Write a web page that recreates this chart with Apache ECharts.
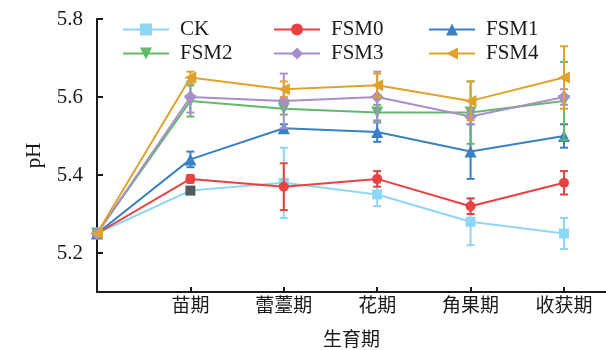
<!DOCTYPE html>
<html>
<head>
<meta charset="utf-8">
<script src="https://cdn.jsdelivr.net/npm/echarts@6/dist/echarts.min.js"></script>
<style>html,body{margin:0;padding:0;background:#fff}#c{width:606px;height:350px}</style>
</head>
<body>
<div id="c"></div>
<script>
const categories = ['', '苗期', '蕾薹期', '花期', '角果期', '收获期'];
const yTicks = [5.2, 5.4, 5.6, 5.8];
const seriesNames = ['CK', 'FSM0', 'FSM1', 'FSM2', 'FSM3', 'FSM4'];
const ck   = [5.25, 5.36, 5.38, 5.35, 5.28, 5.25];
const ckErr   = [0, 0.005, 0.09, 0.03, 0.06, 0.04];
const fsm0 = [5.25, 5.39, 5.37, 5.39, 5.32, 5.38];
const fsm0Err = [0, 0.01, 0.06, 0.02, 0.02, 0.03];
const fsm1 = [5.25, 5.44, 5.52, 5.51, 5.46, 5.50];
const fsm1Err = [0, 0.02, 0.01, 0.025, 0.07, 0.03];
const fsm2 = [5.25, 5.59, 5.57, 5.56, 5.56, 5.59];
const fsm2Err = [0, 0.04, 0.015, 0.02, 0.08, 0.1];
const fsm3 = [5.25, 5.60, 5.59, 5.60, 5.55, 5.60];
const fsm3Err = [0, 0.04, 0.07, 0.065, 0.02, 0.02];
const fsm4 = [5.25, 5.65, 5.62, 5.63, 5.59, 5.65];
const fsm4Err = [0, 0.015, 0.02, 0.03, 0.05, 0.08];

const values = [ck, fsm0, fsm1, fsm2, fsm3, fsm4];
const errs = [ckErr, fsm0Err, fsm1Err, fsm2Err, fsm3Err, fsm4Err];
const colors = ['#8fd5f5', '#e8413f', '#3a80c3', '#62b96c', '#a88fc9', '#dfa32d'];
const symbols = ['rect', 'circle', 'triangle', 'triangle', 'diamond', 'triangle'];
const rotates = [0, 0, 0, 180, 0, 90];
const serif = "'Liberation Serif', 'Noto Sans CJK SC', serif";

const series = [];
values.forEach((vals, i) => {
  series.push({
    type: 'line',
    name: seriesNames[i],
    z: 4 + i,
    data: vals.map((v, k) => {
      const d = { value: [k, v] };
      if (i === 0 && k === 1) d.itemStyle = { color: '#4f5b5f' };
      return d;
    }),
    symbol: symbols[i],
    symbolRotate: rotates[i],
    symbolSize: symbols[i] === 'triangle' ? 12 : (symbols[i] === 'diamond' ? 13 : 10),
    showSymbol: true,
    lineStyle: { color: colors[i], width: 2 },
    itemStyle: { color: colors[i] },
    emphasis: { disabled: true }
  });
});
values.forEach((vals, i) => {
  series.push({
    type: 'custom',
    name: seriesNames[i] + '_err',
    z: 4 + i,
    silent: true,
    data: vals.map((v, k) => [k, v - errs[i][k], v + errs[i][k]]),
    renderItem: function (params, api) {
      const x = api.value(0);
      const lo = api.coord([x, api.value(1)]);
      const hi = api.coord([x, api.value(2)]);
      const w = 4;
      const st = { stroke: colors[i], lineWidth: 2 };
      return {
        type: 'group',
        children: [
          { type: 'line', shape: { x1: lo[0], y1: lo[1], x2: hi[0], y2: hi[1] }, style: st },
          { type: 'line', shape: { x1: lo[0] - w, y1: lo[1], x2: lo[0] + w, y2: lo[1] }, style: st },
          { type: 'line', shape: { x1: hi[0] - w, y1: hi[1], x2: hi[0] + w, y2: hi[1] }, style: st }
        ]
      };
    }
  });
});

const legendCommon = {
  orient: 'vertical',
  top: 14,
  itemWidth: 46,
  itemHeight: 15,
  itemGap: 3,
  textStyle: { fontFamily: serif, fontSize: 21, color: '#1a1a1a', padding: [0, 0, 0, 6] },
  selectedMode: false
};

const option = {
  animation: false,
  color: colors,
  grid: { left: 97, right: 0, top: 19, bottom: 58, containLabel: false, outerBoundsMode: 'none' },
  legend: [
    Object.assign({ left: 117, data: ['CK', 'FSM2'] }, legendCommon),
    Object.assign({ left: 268, data: ['FSM0', 'FSM3'] }, legendCommon),
    Object.assign({ left: 423, data: ['FSM1', 'FSM4'] }, legendCommon)
  ],
  xAxis: {
    type: 'value',
    min: 0,
    max: 5.45,
    name: '生育期',
    nameLocation: 'middle',
    nameGap: 40,
    nameTextStyle: { fontFamily: serif, fontSize: 19, color: '#1a1a1a' },
    axisLine: { show: true, lineStyle: { color: '#1a1a1a', width: 2 } },
    axisTick: { show: true, inside: true, length: 5, customValues: [1, 2, 3, 4, 5], lineStyle: { color: '#1a1a1a', width: 2 } },
    axisLabel: {
      customValues: [1, 2, 3, 4, 5],
      formatter: v => categories[Math.round(v)],
      fontFamily: serif, fontSize: 19, color: '#1a1a1a', margin: 6
    },
    splitLine: { show: false }
  },
  yAxis: {
    type: 'value',
    min: 5.1,
    max: 5.8,
    name: 'pH',
    nameLocation: 'middle',
    nameGap: 52,
    nameTextStyle: { fontFamily: serif, fontSize: 21, color: '#1a1a1a' },
    axisLine: { show: true, lineStyle: { color: '#1a1a1a', width: 2 } },
    axisTick: { show: true, inside: true, length: 6, customValues: yTicks, lineStyle: { color: '#1a1a1a', width: 2 } },
    axisLabel: {
      customValues: yTicks,
      formatter: v => v.toFixed(1),
      fontFamily: serif, fontSize: 21, color: '#1a1a1a', margin: 14
    },
    splitLine: { show: false }
  },
  series: series
};

const chart = echarts.init(document.getElementById('c'), null, { renderer: 'canvas' });
chart.setOption(option);
</script>
</body>
</html>
